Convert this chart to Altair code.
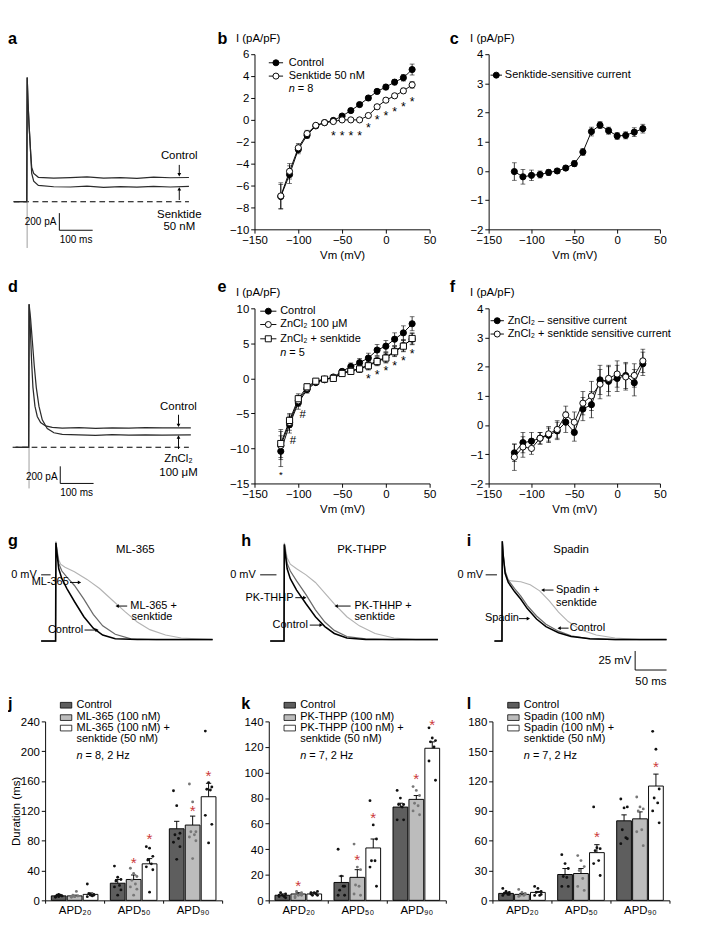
import altair as alt
import pandas as pd

FONT = "Liberation Sans"

# ===================== data =====================
VM = [-120, -110, -100, -90, -80, -70, -60, -50, -40, -30, -20, -10, 0, 10, 20, 30]

# panel b (pA/pF)
B_CONTROL = [-7.0, -5.0, -2.7, -1.4, -0.55, -0.25, -0.05, 0.35, 0.85, 1.4, 2.0, 2.6, 3.0, 3.45, 3.85, 4.6]
B_CONTROL_SEM = [1.1, 0.8, 0.4, 0.3, 0.2, 0.1, 0.1, 0.1, 0.15, 0.2, 0.2, 0.2, 0.25, 0.25, 0.3, 0.5]
B_SENKTIDE = [-6.95, -4.7, -2.55, -1.25, -0.5, -0.25, -0.15, 0.0, 0.0, 0.0, 0.4, 1.2, 1.8, 2.2, 2.65, 3.2]
B_SENKTIDE_SEM = [1.2, 0.7, 0.4, 0.3, 0.15, 0.1, 0.1, 0.1, 0.1, 0.1, 0.15, 0.2, 0.2, 0.2, 0.25, 0.3]
B_STAR_VM = [-60, -50, -40, -30, -20, -10, 0, 10, 20, 30]
B_STAR_I = [-1.1, -1.1, -1.1, -1.1, -0.4, 0.3, 0.65, 1.07, 1.5, 2.0]

# panel c
C_SENSITIVE = [-0.02, -0.2, -0.15, -0.12, -0.05, 0.0, 0.1, 0.25, 0.65, 1.35, 1.57, 1.38, 1.2, 1.22, 1.33, 1.45]
C_SENSITIVE_SEM = [0.3, 0.25, 0.18, 0.12, 0.1, 0.08, 0.08, 0.1, 0.12, 0.15, 0.12, 0.12, 0.12, 0.12, 0.15, 0.15]

# panel e
E_CONTROL = [-10.4, -6.6, -3.5, -1.6, -0.6, -0.2, 0.2, 1.0, 1.7, 2.25, 2.9, 4.05, 4.6, 5.6, 6.5, 7.8]
E_CONTROL_SEM = [2.2, 1.2, 0.9, 0.5, 0.3, 0.2, 0.2, 0.3, 0.5, 0.6, 0.7, 0.8, 0.8, 0.9, 1.0, 1.0]
E_ZNCL2 = [-9.6, -6.3, -3.2, -1.4, -0.5, -0.1, 0.1, 0.8, 1.1, 1.4, 1.9, 2.5, 3.0, 3.9, 4.7, 5.6]
E_ZNCL2_SEM = [2.0, 1.1, 0.8, 0.4, 0.3, 0.2, 0.2, 0.3, 0.4, 0.5, 0.6, 0.6, 0.7, 0.7, 0.8, 0.8]
E_ZNSENK = [-9.3, -6.0, -2.9, -1.2, -0.4, -0.1, 0.0, 0.7, 1.0, 1.35, 1.8, 2.4, 2.9, 3.8, 4.6, 5.7]
E_ZNSENK_SEM = [2.0, 1.0, 0.7, 0.4, 0.3, 0.2, 0.2, 0.3, 0.4, 0.5, 0.6, 0.6, 0.7, 0.7, 0.8, 0.8]
E_STAR_VM = [-20, -10, 0, 10, 20, 30]
E_STAR_I = [0.4, 0.95, 1.6, 2.3, 3.0, 4.05]
E_HASH_VM = [-95, -106]
E_HASH_I = [-5.1, -8.8]
E_SMALLSTAR_VM = [-120]
E_SMALLSTAR_I = [-13.4]

# panel f
F_ZN_SENS = [-0.95, -0.6, -0.55, -0.45, -0.35, -0.2, 0.1, -0.25, 0.55, 0.7, 1.55, 1.5, 1.6, 1.7, 1.45, 2.1]
F_ZN_SENS_SEM = [0.3, 0.35, 0.3, 0.2, 0.25, 0.3, 0.35, 0.3, 0.4, 0.45, 0.5, 0.5, 0.45, 0.45, 0.45, 0.4]
F_ZNSK_SENS = [-1.1, -0.75, -0.8, -0.45, -0.3, -0.15, 0.35, 0.1, 0.75, 1.0, 1.4, 1.6, 1.75, 1.65, 1.7, 2.2]
F_ZNSK_SENS_SEM = [0.45, 0.35, 0.2, 0.2, 0.25, 0.3, 0.3, 0.35, 0.4, 0.5, 0.5, 0.45, 0.45, 0.45, 0.4, 0.4]

# panel a current traces (ms, pA)
A_T = [-40, -1, 0.5, 3, 6, 9, 11, 14, 20, 34, 80, 130, 180, 230, 280, 330, 380, 430, 486]
A_CONTROL = [0, 0, 1450, 1150, 900, 700, 560, 400, 330, 285, 275, 282, 290, 276, 281, 274, 286, 280, 283]
A_SENKTIDE = [0, 0, 1450, 1150, 900, 700, 560, 330, 240, 190, 175, 172, 182, 168, 176, 170, 178, 172, 180]
# panel d current traces
D_T_CONTROL = [-40, -1, 0.5, 4, 8, 12, 18, 25, 35, 50, 70, 100, 150, 200, 250, 300, 350, 400, 486]
D_CONTROL = [0, 0, 1670, 1400, 1000, 700, 480, 360, 290, 250, 232, 225, 230, 222, 228, 224, 230, 226, 228]
D_T_ZNCL2 = [-40, -1, 0.5, 5, 10, 16, 22, 30, 40, 55, 75, 100, 150, 200, 250, 300, 350, 400, 486]
D_ZNCL2 = [0, 0, 1670, 1500, 1250, 950, 700, 480, 320, 220, 170, 150, 145, 140, 148, 143, 146, 141, 145]

# action potentials (ms, mV)
G_T_CTRL = [-23, 0, 0.5, 2, 5, 10, 18, 30, 45, 60, 75, 95, 130, 250]
G_V_CTRL = [-87, -87, 42, 30, 8, -5, -18, -35, -55, -70, -79, -84, -85, -85]
G_T_DRUG = [-23, 0, 0.5, 2, 5, 10, 18, 30, 45, 60, 75, 95, 120, 160, 250]
G_V_DRUG = [-87, -87, 42, 33, 15, 5, -3, -14, -32, -52, -67, -78, -84, -85, -85]
G_T_SENK = [-23, 0, 0.5, 2, 5, 8, 15, 30, 50, 70, 90, 110, 130, 150, 175, 200, 250]
G_V_SENK = [-87, -87, 44, 35, 20, 14, 10, 4, -6, -18, -33, -48, -62, -72, -79, -83, -85]

H_T_CTRL = [-22, 0, 0.5, 2, 5, 10, 20, 35, 50, 65, 80, 100, 130, 245]
H_V_CTRL = [-87, -87, 40, 28, 8, -5, -20, -38, -55, -68, -77, -83, -85, -85]
H_T_DRUG = [-22, 0, 0.5, 2, 5, 10, 20, 35, 50, 65, 80, 100, 130, 170, 245]
H_V_DRUG = [-87, -87, 40, 32, 15, 5, -8, -26, -46, -62, -73, -81, -84, -85, -85]
H_T_SENK = [-22, 0, 0.5, 2, 5, 10, 20, 35, 50, 65, 80, 100, 120, 145, 175, 210, 245]
H_V_SENK = [-87, -87, 42, 36, 22, 14, 8, 0, -10, -24, -38, -55, -67, -77, -83, -85, -85]

I_T_CTRL = [-12, 0, 0.5, 2, 5, 10, 20, 30, 40, 55, 70, 90, 110, 140, 180, 262]
I_V_CTRL = [-87, -87, 44, 25, 2, -10, -22, -32, -44, -58, -68, -76, -81, -84, -85, -85]
I_T_DRUG = [-12, 0, 0.5, 2, 5, 10, 20, 30, 40, 55, 70, 90, 110, 140, 180, 262]
I_V_DRUG = [-87, -87, 44, 27, 5, -7, -18, -28, -40, -54, -65, -74, -80, -84, -85, -85]
I_T_SENK = [-12, 0, 0.5, 2, 5, 8, 15, 30, 45, 60, 75, 90, 105, 125, 150, 180, 220, 262]
I_V_SENK = [-87, -87, 44, 25, 2, -6, -8, -9, -13, -21, -34, -49, -61, -72, -79, -83, -85, -85]

# APD bar charts (ms)
APD_GROUPS = ["APD₂₀", "APD₅₀", "APD₉₀"]

J_MEAN = [[6, 23, 96], [6, 28, 101], [8, 49, 139]]
J_SEM = [[1, 5, 10], [1, 6, 12], [2, 7, 18]]
J_DOTS = [[[4, 5, 6, 7, 7, 5, 6, 8], [46, 31, 28, 26, 20, 18, 14, 7], [147, 127, 90, 88, 83, 78, 72, 55]],
          [[4, 5, 6, 7, 12, 5, 6, 5], [43, 36, 32, 27, 22, 18, 15, 7], [156, 132, 92, 92, 88, 85, 80, 56]],
          [[22, 7, 8, 9, 6, 5, 7, 8], [72, 70, 59, 54, 49, 45, 41, 11], [227, 158, 152, 149, 148, 114, 102, 77]]]
J_STAR_COND = [1, 2, 1, 2]
J_STAR_GROUP = [1, 1, 2, 2]
J_STAR_VAL = [55, 87, 124, 172]
J_LEGEND = ["Control", "ML-365 (100 nM)", "ML-365 (100 nM) +", "senktide (50 nM)"]

K_MEAN = [[4, 14, 73], [5, 18, 79], [5, 41, 119]]
K_SEM = [[1, 5, 3], [1, 6, 3], [1, 7, 5]]
K_DOTS = [[[3, 4, 5, 6, 3, 4, 2], [40, 19, 11, 8, 11, 4, 4], [86, 80, 75, 75, 73, 63, 63]],
          [[2, 4, 6, 7, 5, 3, 4], [44, 26, 24, 12, 11, 5, 4], [89, 86, 82, 76, 74, 70, 67]],
          [[5, 6, 7, 4, 5, 6, 4], [78, 59, 48, 31, 31, 26, 11], [135, 127, 125, 124, 120, 109, 94]]]
K_STAR_COND = [1, 1, 2, 1, 2]
K_STAR_GROUP = [0, 1, 1, 2, 2]
K_STAR_VAL = [14, 34, 67, 98, 140]
K_LEGEND = ["Control", "PK-THPP (100 nM)", "PK-THPP (100 nM) +", "senktide (50 nM)"]

L_MEAN = [[7, 26, 80], [6, 27, 82], [8, 48, 115]]
L_SEM = [[1, 6, 6], [1, 5, 7], [1, 8, 12]]
L_DOTS = [[[12, 9, 8, 7, 6, 5, 6], [46, 37, 32, 24, 23, 14, 14], [102, 93, 94, 71, 63, 57, 62]],
          [[11, 8, 6, 5, 5, 4, 7], [45, 40, 34, 30, 22, 14, 10], [104, 94, 92, 90, 71, 69, 55]],
          [[14, 12, 9, 8, 5, 5, 6], [94, 53, 52, 50, 40, 37, 25], [170, 152, 112, 103, 98, 90, 78]]]
L_STAR_COND = [2, 2]
L_STAR_GROUP = [1, 2]
L_STAR_VAL = [67, 138]
L_LEGEND = ["Control", "Spadin (100 nM)", "Spadin (100 nM) +", "senktide (50 nM)"]

# ===================== styles / layout =====================
BAR_FILLS = ["#5e5e5e", "#bcbcbc", "#ffffff"]
DOT_COLORS = ["#111111", "#777777", "#111111"]
DOT_SPREAD = [-0.55, 0.0, 0.55, -0.3, 0.3, -0.55, 0.55, 0.0]
BAR_STEP = 0.27
BAR_HALF = 0.125
CAP = 0.045
STAR_RED = "#cc3b3b"
COL_W = [220, 246, 186]
ROW_H = [184, 184, 84, 188]

ONE = pd.DataFrame({"k": [0]})


def fixed_text(s, x, y, size=11.5, align="left", baseline="middle", style="normal",
               weight="normal", color="black"):
    return alt.Chart(ONE).mark_text(text=s, font=FONT, fontSize=size, align=align,
                                    baseline=baseline, fontStyle=style, fontWeight=weight,
                                    color=color).encode(x=alt.value(x), y=alt.value(y))


def panel_letter(ch, x, y):
    return fixed_text(ch, x, y, size=17, baseline="top", weight="bold")


def n_label(x, y, rest):
    return [fixed_text("n", x, y, style="italic"), fixed_text(rest, x + 9.5, y)]


def line_legend(x0, x1, y, shape, fill, label, tx):
    rule = alt.Chart(ONE).mark_rule(color="black", strokeWidth=1).encode(
        x=alt.value(x0), x2=alt.value(x1), y=alt.value(y))
    pt = alt.Chart(ONE).mark_point(shape=shape, filled=True, fill=fill, stroke="black",
                                   strokeWidth=1, size=40, opacity=1).encode(
        x=alt.value((x0 + x1) / 2), y=alt.value(y))
    return [rule, pt, fixed_text(label, tx, y)]


def iv_panel(W, PW, H, ydom, yvals, series, extras, overlay):
    xs = alt.Scale(domain=[-150, 50], range=[0, PW], nice=False, zero=False)
    ys = alt.Scale(domain=ydom, nice=False, zero=False)
    xax = alt.Axis(values=[-150, -100, -50, 0, 50], tickCount=50, format="d",
                   title="Vm (mV)", titlePadding=5, labelOverlap=False)
    yax = alt.Axis(values=yvals, tickCount=50, format="d", title="I (pA/pF)", titleAngle=0,
                   titleX=-20, titleY=-17, titleAlign="left", titleBaseline="middle",
                   labelOverlap=False)
    frames = []
    for s in series:
        frames.append(pd.DataFrame({
            "vm": VM, "i": s[0],
            "lo": [v - e for v, e in zip(s[0], s[1])],
            "hi": [v + e for v, e in zip(s[0], s[1])]}))

    def X(f):
        return alt.X(f, scale=xs)

    def Y(f):
        return alt.Y(f, scale=ys)

    layers = []
    for n, df in enumerate(frames):
        base = alt.Chart(df)
        if n == 0:
            enc = dict(x=alt.X("vm:Q", scale=xs, axis=xax), y=alt.Y("lo:Q", scale=ys, axis=yax))
        else:
            enc = dict(x=X("vm:Q"), y=Y("lo:Q"))
        layers.append(base.mark_rule(color="black", strokeWidth=0.8).encode(y2="hi:Q", **enc))
        for fld in ("lo", "hi"):
            layers.append(base.mark_tick(orient="horizontal", size=5, thickness=0.8,
                                         color="black").encode(x=X("vm:Q"), y=Y(fld + ":Q")))
    for df in frames:
        layers.append(alt.Chart(df).mark_line(color="black", strokeWidth=1).encode(
            x=X("vm:Q"), y=Y("i:Q"), order="vm:Q"))
    for df, s in zip(frames, series):
        layers.append(alt.Chart(df).mark_point(shape=s[2], filled=True, fill=s[3],
                                               stroke="black", strokeWidth=1, size=42,
                                               opacity=1).encode(x=X("vm:Q"), y=Y("i:Q")))
    for (vms, vals, sym, size, dx, dy) in extras:
        df = pd.DataFrame({"vm": vms, "i": vals})
        layers.append(alt.Chart(df).mark_text(text=sym, font=FONT, fontSize=size, dx=dx,
                                              dy=dy, color="black").encode(
            x=X("vm:Q"), y=Y("i:Q")))
    layers += overlay
    return alt.layer(*layers).properties(width=W, height=H)


def trace_panel(W, H, xdom, xrange_, ydom, yrange_, lines, segs, arrows, texts, overlay,
                dashed=None):
    xs = alt.Scale(domain=xdom, range=xrange_, nice=False, zero=False)
    ys = alt.Scale(domain=ydom, range=yrange_, nice=False, zero=False)

    def X(f):
        return alt.X(f, scale=xs, axis=None)

    def Y(f):
        return alt.Y(f, scale=ys, axis=None)

    layers = []
    if dashed is not None:
        df = pd.DataFrame({"t0": [dashed[0]], "t1": [dashed[1]], "v": [0]})
        layers.append(alt.Chart(df).mark_rule(color="black", strokeWidth=1.2,
                                              strokeDash=[6, 4]).encode(
            x=X("t0:Q"), x2="t1:Q", y=Y("v:Q")))
    for (seglist, color, width) in segs:
        df = pd.DataFrame(seglist, columns=["t0", "v0", "t1", "v1"])
        layers.append(alt.Chart(df).mark_rule(color=color, strokeWidth=width).encode(
            x=X("t0:Q"), x2="t1:Q", y=Y("v0:Q"), y2="v1:Q"))
    for (ts, vs, color, width) in lines:
        df = pd.DataFrame({"t": ts, "v": vs, "o": list(range(len(ts)))})
        layers.append(alt.Chart(df).mark_line(color=color, strokeWidth=width).encode(
            x=X("t:Q"), y=Y("v:Q"), order="o:Q"))
    if arrows:
        df = pd.DataFrame(arrows, columns=["t0", "v0", "t1", "v1"])
        shapes = []
        for _, r in df.iterrows():
            if r.t1 > r.t0:
                shapes.append("triangle-right")
            elif r.t1 < r.t0:
                shapes.append("triangle-left")
            elif r.v1 > r.v0:
                shapes.append("triangle-up")
            else:
                shapes.append("triangle-down")
        df["shape"] = shapes
        layers.append(alt.Chart(df).mark_rule(color="black", strokeWidth=1).encode(
            x=X("t0:Q"), x2="t1:Q", y=Y("v0:Q"), y2="v1:Q"))
        layers.append(alt.Chart(df).mark_point(filled=True, color="black", size=16,
                                               opacity=1).encode(
            x=X("t1:Q"), y=Y("v1:Q"), shape=alt.Shape("shape:N", scale=None)))
    for align in ("left", "center", "right"):
        sub = [tx for tx in texts if tx[3] == align]
        for size in sorted(set(tx[4] for tx in sub)):
            rows = [tx for tx in sub if tx[4] == size]
            df = pd.DataFrame({"s": [r[0] for r in rows], "t": [r[1] for r in rows],
                               "v": [r[2] for r in rows]})
            layers.append(alt.Chart(df).mark_text(font=FONT, fontSize=size, align=align,
                                                  baseline="middle", color="black").encode(
                x=X("t:Q"), y=Y("v:Q"), text="s:N"))
    layers += overlay
    return alt.layer(*layers).properties(width=W, height=H)


def bar_panel(W, x0, PW, H, ymax, ystep, means, sems, dots, star_c, star_g, star_v, legend,
              nrest, ytitle, overlay):
    xs = alt.Scale(domain=[-0.5, 2.5], range=[x0, x0 + PW], nice=False, zero=False)
    ys = alt.Scale(domain=[0, ymax], nice=False)
    label_expr = ("datum.value < 0 ? '%s' : (datum.value < 1 ? '%s' : "
                  "(datum.value < 2 ? '%s' : ''))" % tuple(APD_GROUPS))
    xax = alt.Axis(values=[-0.5, 0.5, 1.5, 2.5], tickCount=50, labelExpr=label_expr,
                   labelOffset=PW / 6, title=None, tickSize=3, labelPadding=2,
                   labelOverlap=False)
    yvals = list(range(0, ymax + 1, ystep))
    if ytitle:
        yax = alt.Axis(values=yvals, tickCount=50, format="d", title="Duration (ms)",
                       titleAngle=270, titleX=-31, titleY=H / 2, titleAlign="center",
                       titleBaseline="middle", offset=-x0, labelOverlap=False)
    else:
        yax = alt.Axis(values=yvals, tickCount=50, format="d", title=None, offset=-x0,
                       labelOverlap=False)
    rows, drows = [], []
    for c in range(3):
        for g in range(3):
            pos = g + (c - 1) * BAR_STEP
            rows.append({"left": pos - BAR_HALF, "right": pos + BAR_HALF, "pos": pos,
                         "mean": means[c][g], "hi": means[c][g] + sems[c][g],
                         "cl": pos - CAP, "cr": pos + CAP, "fill": BAR_FILLS[c], "zero": 0})
            for k, v in enumerate(dots[c][g]):
                drows.append({"x": pos + DOT_SPREAD[k % len(DOT_SPREAD)] * BAR_HALF * 0.8,
                              "y": v, "col": DOT_COLORS[c]})
    bars = pd.DataFrame(rows)
    dots_df = pd.DataFrame(drows)
    stars = pd.DataFrame({"x": [g + (c - 1) * BAR_STEP for c, g in zip(star_c, star_g)],
                          "y": star_v})

    def X(f):
        return alt.X(f, scale=xs)

    def Y(f):
        return alt.Y(f, scale=ys)

    layers = [
        alt.Chart(bars).mark_bar(stroke="black", strokeWidth=1).encode(
            x=alt.X("left:Q", scale=xs, axis=xax), x2="right:Q",
            y=alt.Y("mean:Q", scale=ys, axis=yax), y2="zero:Q",
            fill=alt.Fill("fill:N", scale=None)),
        alt.Chart(bars).mark_rule(color="black", strokeWidth=1).encode(
            x=X("pos:Q"), y=Y("mean:Q"), y2="hi:Q"),
        alt.Chart(bars).mark_rule(color="black", strokeWidth=1).encode(
            x=X("cl:Q"), x2="cr:Q", y=Y("hi:Q")),
        alt.Chart(dots_df).mark_circle(size=9, opacity=1).encode(
            x=X("x:Q"), y=Y("y:Q"), color=alt.Color("col:N", scale=None)),
        alt.Chart(stars).mark_text(text="*", font=FONT, fontSize=16, dy=4,
                                   color=STAR_RED).encode(x=X("x:Q"), y=Y("y:Q")),
    ]
    ly = [-17, -4, 7, 19, 36]
    for c in range(3):
        layers.append(alt.Chart(ONE).mark_rect(fill=BAR_FILLS[c], stroke="black",
                                               strokeWidth=0.8).encode(
            x=alt.value(x0 + 16), x2=alt.value(x0 + 28), y=alt.value(ly[c] - 3),
            y2=alt.value(ly[c] + 3)))
    for r in range(4):
        layers.append(fixed_text(legend[r], x0 + 33, ly[r]))
    layers += n_label(x0 + 33, ly[4], nrest)
    layers += overlay
    return alt.layer(*layers).properties(width=W, height=H)


# ===================== panels =====================
panel_a = trace_panel(
    COL_W[0], ROW_H[0], [0, 100], [-19, 16], [0, 200], [155, 137],
    lines=[(A_T, A_CONTROL, "#2b2b2b", 1.3), (A_T, A_SENKTIDE, "#2b2b2b", 1.3)],
    segs=[([(0.3, -540, 0.3, 1450)], "#9a9a9a", 1.0),
          ([(97, -133, 97, -333), (97, -333, 197, -333)], "black", 1.0)],
    arrows=[(457, 430, 457, 315), (457, 20, 457, 150)],
    texts=[("Control", 457, 540, "center", 12), ("Senktide", 457, -140, "center", 12),
           ("50 nM", 457, -290, "center", 12), ("200 pA", 88, -244, "right", 10.5),
           ("100 ms", 147, -444, "center", 10.5)],
    overlay=[panel_letter("a", -39, -24)],
    dashed=(-40, 486))

panel_b = iv_panel(
    COL_W[1], 184, ROW_H[0], [-10, 6], list(range(-10, 7, 2)),
    [(B_CONTROL, B_CONTROL_SEM, "circle", "black"),
     (B_SENKTIDE, B_SENKTIDE_SEM, "circle", "white")],
    extras=[(B_STAR_VM, B_STAR_I, "*", 13, 0, 4)],
    overlay=line_legend(15, 30, 9, "circle", "black", "Control", 36)
    + line_legend(15, 30, 23, "circle", "white", "Senktide 50 nM", 36)
    + n_label(36, 37, "= 8") + [panel_letter("b", -39, -24)])

panel_c = iv_panel(
    COL_W[2], 180, ROW_H[0], [-2, 4], list(range(-2, 5, 1)),
    [(C_SENSITIVE, C_SENSITIVE_SEM, "circle", "black")],
    extras=[],
    overlay=line_legend(2, 14, 22, "circle", "black", "Senktide-sensitive current", 17)
    + [panel_letter("c", -41, -24)])

panel_d = trace_panel(
    COL_W[0], ROW_H[1], [0, 100], [-17, 18], [0, 200], [146, 128],
    lines=[(D_T_CONTROL, D_CONTROL, "#2b2b2b", 1.3), (D_T_ZNCL2, D_ZNCL2, "#2b2b2b", 1.3)],
    segs=[([(0.3, -480, 0.3, 1670)], "#9a9a9a", 1.0),
          ([(94, -222, 94, -422), (94, -422, 194, -422)], "black", 1.0)],
    arrows=[(449, 380, 449, 255), (449, -20, 449, 120)],
    texts=[("Control", 449, 475, "center", 12), ("ZnCl₂", 449, -130, "center", 12),
           ("100 μM", 449, -285, "center", 12), ("200 pA", 86, -344, "right", 10.5),
           ("100 ms", 143, -530, "center", 10.5)],
    overlay=[panel_letter("d", -39, -30)],
    dashed=(-49, 480))

panel_e = iv_panel(
    COL_W[1], 184, ROW_H[1], [-15, 10], list(range(-15, 11, 5)),
    [(E_CONTROL, E_CONTROL_SEM, "circle", "black"),
     (E_ZNCL2, E_ZNCL2_SEM, "circle", "white"),
     (E_ZNSENK, E_ZNSENK_SEM, "square", "white")],
    extras=[(E_STAR_VM, E_STAR_I, "*", 13, 0, 4), (E_HASH_VM, E_HASH_I, "#", 12, 0, 0),
            (E_SMALLSTAR_VM, E_SMALLSTAR_I, "*", 10, 0, 3)],
    overlay=line_legend(6, 23, 3, "circle", "black", "Control", 27)
    + line_legend(6, 23, 17, "circle", "white", "ZnCl₂ 100 μM", 27)
    + line_legend(6, 23, 32, "square", "white", "ZnCl₂ + senktide", 27)
    + n_label(27, 47, "= 5") + [panel_letter("e", -39, -30)])

panel_f = iv_panel(
    COL_W[2], 180, ROW_H[1], [-2, 4], list(range(-2, 5, 1)),
    [(F_ZN_SENS, F_ZN_SENS_SEM, "circle", "black"),
     (F_ZNSK_SENS, F_ZNSK_SENS_SEM, "circle", "white")],
    extras=[],
    overlay=line_legend(2, 16, 13, "circle", "black", "ZnCl₂ – sensitive current", 20)
    + line_legend(2, 16, 27, "circle", "white", "ZnCl₂ + senktide sensitive current", 20)
    + [panel_letter("f", -41, -30)])

AP_LINES_STYLE = [("#b3b3b3", 1.2), ("#6a6a6a", 1.3), ("#000000", 1.6)]

panel_g = trace_panel(
    COL_W[0], ROW_H[2], [0, 50], [11, 44], [0, 25], [13, -7],
    lines=[(G_T_SENK, G_V_SENK) + AP_LINES_STYLE[0], (G_T_DRUG, G_V_DRUG) + AP_LINES_STYLE[1],
           (G_T_CTRL, G_V_CTRL) + AP_LINES_STYLE[2]],
    segs=[([(-23, 0, -8, 0)], "black", 1.0)],
    arrows=[(23, -10, 38, -10), (46, -72.5, 66, -72.5), (114, -41, 98, -41)],
    texts=[("0 mV", -30, 0, "right", 11.5), ("ML-365", 21, -10, "right", 11.5),
           ("Control", 44, -72.5, "right", 11.5), ("ML-365 +", 119, -41, "left", 11.5),
           ("senktide", 121, -56, "left", 11.5), ("ML-365", 127, 34, "center", 12)],
    overlay=[panel_letter("g", -39, -30)])

panel_h = trace_panel(
    COL_W[1], ROW_H[2], [0, 50], [31, 64], [0, 25], [13, -7],
    lines=[(H_T_SENK, H_V_SENK) + AP_LINES_STYLE[0], (H_T_DRUG, H_V_DRUG) + AP_LINES_STYLE[1],
           (H_T_CTRL, H_V_CTRL) + AP_LINES_STYLE[2]],
    segs=[([(-38, 0, -12, 0)], "black", 1.0)],
    arrows=[(18, -30, 33, -30), (41, -66, 59, -66), (106, -41, 83, -41)],
    texts=[("0 mV", -45, 0, "right", 11.5), ("PK-THHP", 15, -30, "right", 11.5),
           ("Control", 38, -66, "right", 11.5), ("PK-THHP +", 112, -41, "left", 11.5),
           ("senktide", 112, -56, "left", 11.5), ("PK-THPP", 124, 34, "center", 12)],
    overlay=[panel_letter("h", -14, -30)])

panel_i = trace_panel(
    COL_W[2], ROW_H[2], [0, 50], [14, 47], [0, 25], [13, -7],
    lines=[(I_T_SENK, I_V_SENK) + AP_LINES_STYLE[0], (I_T_DRUG, I_V_DRUG) + AP_LINES_STYLE[1],
           (I_T_CTRL, I_V_CTRL) + AP_LINES_STYLE[2]],
    segs=[([(-26, 0, -8, 0)], "black", 1.0),
          ([(212, -100, 212, -125), (212, -125, 262, -125)], "black", 1.0)],
    arrows=[(27, -57.5, 42, -57.5), (106, -70, 91, -70), (82, -20, 65, -20)],
    texts=[("0 mV", -30, 0, "right", 11.5), ("Spadin", 27, -57.5, "right", 11.5),
           ("Control", 108, -70, "left", 11.5), ("Spadin +", 86, -20, "left", 11.5),
           ("senktide", 86, -37.5, "left", 11.5), ("Spadin", 110, 34, "center", 12),
           ("25 mV", 206, -112, "right", 12), ("50 ms", 237, -140, "center", 12)],
    overlay=[panel_letter("i", -23, -30)])

panel_j = bar_panel(COL_W[0], 0, 186, ROW_H[3], 240, 40, J_MEAN, J_SEM, J_DOTS, J_STAR_COND,
                    J_STAR_GROUP, J_STAR_VAL, J_LEGEND, "= 8, 2 Hz", True,
                    [panel_letter("j", -39, -26)])
panel_k = bar_panel(COL_W[1], 15, 186, ROW_H[3], 140, 20, K_MEAN, K_SEM, K_DOTS, K_STAR_COND,
                    K_STAR_GROUP, K_STAR_VAL, K_LEGEND, "= 7, 2 Hz", False,
                    [panel_letter("k", -14, -26)])
panel_l = bar_panel(COL_W[2], 4, 186, ROW_H[3], 180, 30, L_MEAN, L_SEM, L_DOTS, L_STAR_COND,
                    L_STAR_GROUP, L_STAR_VAL, L_LEGEND, "= 7, 2 Hz", False,
                    [panel_letter("l", -23, -26)])

chart = alt.concat(
    panel_a, panel_b, panel_c,
    panel_d, panel_e, panel_f,
    panel_g, panel_h, panel_i,
    panel_j, panel_k, panel_l,
    columns=3, bounds="flush", spacing={"row": 83, "column": 0}
).properties(
    padding=0, background="white"
).configure_view(stroke=None).configure_axis(
    domainColor="black", tickColor="black", labelColor="black", titleColor="black",
    labelFont=FONT, titleFont=FONT, labelFontSize=12, titleFontSize=12,
    titleFontWeight="normal", tickSize=4, labelPadding=2, grid=False, labelFlush=False,
    labelOverlap=False, domainWidth=1, tickWidth=1
)

chart.save("out.html", embed_options={"renderer": "svg", "actions": False})
